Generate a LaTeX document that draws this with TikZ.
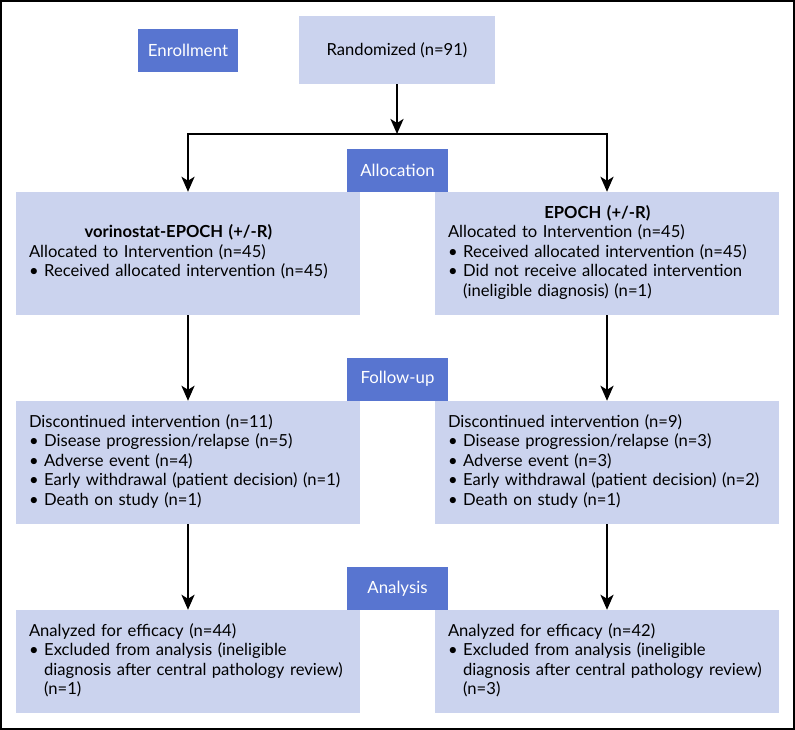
\documentclass[tikz,border=0pt]{standalone}
\usepackage{fontspec}
\setmainfont{Lato}
\usetikzlibrary{arrows.meta}
\definecolor{stageblue}{RGB}{88,117,208}
\definecolor{panelblue}{RGB}{203,211,238}
\newcommand\bul{\textbullet\ }
\newcommand\bulpad{\hphantom{\textbullet\ }}
\tikzset{
  stage/.style={fill=stageblue,text=white,inner sep=0pt,minimum width=101pt,minimum height=43pt,
    font=\fontsize{16.8}{19.5}\selectfont},
  panel/.style={fill=panelblue,inner sep=0pt,minimum width=344pt,minimum height=123pt,
    text width=318pt,align=left,font=\fontsize{16.6}{19.5}\selectfont},
  flow/.style={line width=2.5pt,-{Stealth[length=15pt,width=13pt,inset=4pt]}},
}
\begin{document}
\begin{tikzpicture}[x=1pt,y=-1pt]
\useasboundingbox (0,0) rectangle (795,730);
\draw[line width=2pt] (1,1) rectangle (794,729);
\node[stage,minimum width=100pt] (enrol) at (188,50.5) {Enrollment};
\node[panel,minimum width=196pt,minimum height=68pt,text width=,align=center] (rand) at (397,50) {Randomized (n=91)};
\node[stage] (alloc) at (397.5,170.5) {Allocation};
\node[stage] (follow) at (397.5,379) {Follow-up};
\node[stage] (analysis) at (397.5,588.5) {Analysis};
\node[panel] (armA) at (188,253.5) {\begin{tabular}{@{}l@{}}
\multicolumn{1}{@{}c@{}}{\bfseries vorinostat-EPOCH (+/-R)}\\
Allocated to Intervention (n=45)\\
\bul Received allocated intervention (n=45)
\end{tabular}};
\node[panel] (armB) at (607,253.5) {\begin{tabular}{@{}l@{}}
\multicolumn{1}{@{}c@{}}{\bfseries EPOCH (+/-R)}\\
Allocated to Intervention (n=45)\\
\bul Received allocated intervention (n=45)\\
\bul Did not receive allocated intervention\\
\bulpad (ineligible diagnosis) (n=1)
\end{tabular}};
\node[panel] (discA) at (188,462.5) {\begin{tabular}{@{}l@{}}
Discontinued intervention (n=11)\\
\bul Disease progression/relapse (n=5)\\
\bul Adverse event (n=4)\\
\bul Early withdrawal (patient decision) (n=1)\\
\bul Death on study (n=1)
\end{tabular}};
\node[panel] (discB) at (607,462.5) {\begin{tabular}{@{}l@{}}
Discontinued intervention (n=9)\\
\bul Disease progression/relapse (n=3)\\
\bul Adverse event (n=3)\\
\bul Early withdrawal (patient decision) (n=2)\\
\bul Death on study (n=1)
\end{tabular}};
\node[panel,minimum height=103pt] (anaA) at (188,661.5) {\begin{tabular}{@{}l@{}}
Analyzed for efficacy (n=44)\\
\bul Excluded from analysis (ineligible\\
\bulpad diagnosis after central pathology review)\\
\bulpad (n=1)
\end{tabular}};
\node[panel,minimum height=103pt] (anaB) at (607,661.5) {\begin{tabular}{@{}l@{}}
Analyzed for efficacy (n=42)\\
\bul Excluded from analysis (ineligible\\
\bulpad diagnosis after central pathology review)\\
\bulpad (n=3)
\end{tabular}};
\coordinate (split) at (397,134);
\draw[flow] (rand.south) -- (split);
\draw[flow] (split) -| (armA.north);
\draw[flow] (split) -| (armB.north);
\draw[flow] (armA.south) -- (discA.north);
\draw[flow] (armB.south) -- (discB.north);
\draw[flow] (discA.south) -- (anaA.north);
\draw[flow] (discB.south) -- (anaB.north);
\end{tikzpicture}
\end{document}
